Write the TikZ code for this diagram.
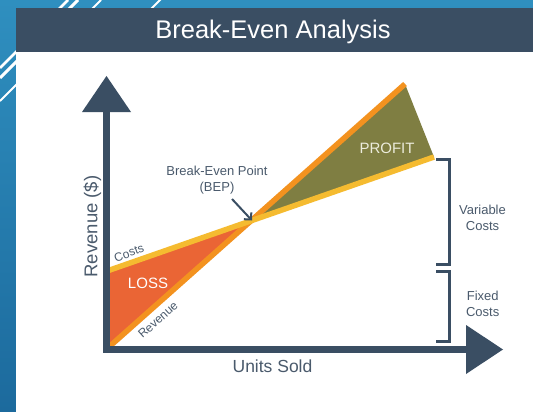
\documentclass[tikz,border=0pt]{standalone}
\usepackage{fontspec}
\setmainfont{Liberation Sans}
\usetikzlibrary{arrows.meta}
\definecolor{slate}{HTML}{3A4E63}
\definecolor{txt}{HTML}{4A5A6C}
\definecolor{bluetop}{HTML}{2F8FBF}
\definecolor{bluebot}{HTML}{1C6A9D}
\definecolor{lossc}{HTML}{EA6535}
\definecolor{revc}{HTML}{F3921F}
\definecolor{costc}{HTML}{F5BB30}
\definecolor{profc}{HTML}{7F7E42}
\definecolor{proftxt}{HTML}{ECECDC}
\begin{document}
\begin{tikzpicture}[x=1pt,y=-1pt,
  lbl/.style={text=txt, inner sep=0pt, align=center, font=\fontsize{13}{16.7}\selectfont},
  inlbl/.style={inner sep=0pt, font=\fontsize{15}{18}\selectfont},
  linelbl/.style={text=txt, inner sep=0pt, font=\fontsize{12}{14}\selectfont},
  axislbl/.style={text=txt, inner sep=0pt, anchor=base},
  bracket/.style={draw=slate, line width=3pt, line join=miter},
  stripe/.style={draw=white, line width=2.5pt}]
\useasboundingbox (0,0) rectangle (533,412);
% background
\shade[top color=bluetop, bottom color=bluebot] (0,0) rectangle (533,412);
\draw[stripe] (0,68) -- (68,0);
\draw[stripe, line width=3pt] (0,78) -- (78,0);
\draw[stripe, line width=2pt] (0,101) -- (101,0);
\draw[stripe, line width=2pt] (148,12) -- (162,-2);
\fill[white] (16,52) rectangle (533,412);
\fill[slate] (16,8) rectangle (533,52);
\node[text=white, inner sep=0pt, anchor=base, font=\fontsize{25.5}{30}\selectfont] (title) at (273,39) {Break-Even Analysis};

% key points
\coordinate (bep) at (252,220.5);
\coordinate (costA) at (107,271);
\coordinate (costB) at (434,157);
\coordinate (revA) at (107,348.7);
\coordinate (revB) at (405,84);

% regions
\fill[lossc] (costA) -- (bep) -- (revA) -- cycle;
\fill[profc] (bep) -- (revB) -- (costB) -- cycle;
% lines
\draw[revc, line width=5.5pt] (revA) -- (revB);
\draw[costc, line width=5.5pt] (costA) -- (costB);

% axes
\coordinate (ytop) at (106.5,112);
\coordinate (corner) at (106.5,349.5);
\coordinate (xend) at (466,349.5);
\draw[slate, line width=7pt, line join=miter] (ytop) -- (corner) -- (xend);
\fill[slate] (82,112) -- (131,112) -- (106.5,76) -- cycle;
\fill[slate] (466,325) -- (466,374) -- (503,349.5) -- cycle;

% brackets
\draw[bracket] (436,159.5) -- (449.5,159.5) -- (449.5,264.5) -- (436,264.5);
\draw[bracket] (436,271) -- (449.5,271) -- (449.5,341.5) -- (436,341.5);

% labels
\node[axislbl, font=\fontsize{17.5}{20}\selectfont] (xlab) at (272.5,372.7) {Units Sold};
\node[axislbl, rotate=90, font=\fontsize{18.5}{22}\selectfont] (ylab) at (97.3,226.5) {Revenue (\$)};
\node[lbl] (varlab) at (482.5,217.9) {Variable\\Costs};
\node[lbl] (fixlab) at (482.7,303.9) {Fixed\\Costs};
\node[lbl] (beplab) at (217,180.1) {Break-Even Point\\(BEP)};
\node[inlbl, text=proftxt] (profit) at (387,148) {PROFIT};
\node[inlbl, text=white] (loss) at (148,283) {LOSS};
\node[linelbl, rotate=19.5] (costlab) at (129,253) {Costs};
\node[linelbl, rotate=41.6] (revlab) at (158,320) {Revenue};

% BEP arrow
\coordinate (bepStart) at (232,199);
\draw[slate, line width=2pt, -{Straight Barb[length=5pt,width=10pt]}] (bepStart) -- (bep);
\end{tikzpicture}
\end{document}
